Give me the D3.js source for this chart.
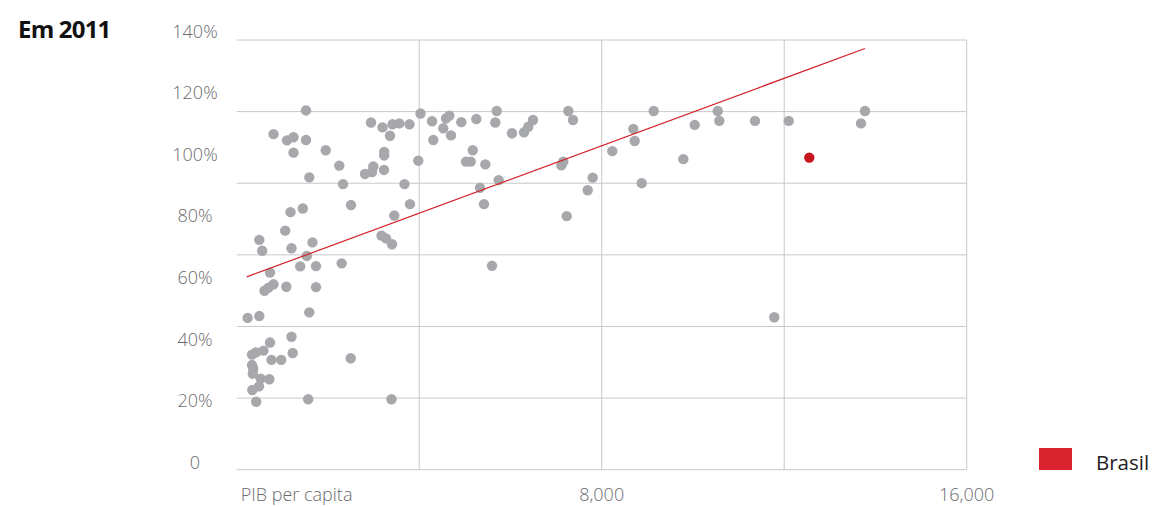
<!DOCTYPE html>
<html>
<head>
<meta charset="utf-8">
<script src="https://cdn.jsdelivr.net/npm/d3@7"></script>
<style>
    body { margin: 0; background: #fff; }
    svg { display: block; font-family: "Open Sans", sans-serif; }
</style>
</head>
<body>
<div id="chart"></div>
<script>
// PIB per capita (x) e taxa de matrícula (y, %) por país, 2011
const pibPerCapita = [
    240, 495, 1519, 807, 1102, 1245, 1519, 1245, 1951, 2249,
    1591, 2944, 3196, 3415, 3564, 3787, 3360, 3233, 3233, 2994,
    2812, 2966, 3228, 2330, 3678, 2505, 3798, 1179, 1449, 3454,
    1063, 495, 559, 1201, 1661, 3174, 3272, 3404, 1536, 2301,
    1392, 1738, 730, 807, 697, 609, 1087, 1738, 1591, 1201,
    730, 587, 423, 335, 1227, 763, 975, 2499, 335, 362,
    353, 526, 715, 489, 342, 427, 1567, 3393,
    4029, 3980, 4281, 4309, 4528, 4588, 4660, 4697, 4923, 5173,
    5026, 5129, 5252, 5449, 5699, 5668, 5333, 5420, 5743, 5596,
    6034, 6297, 6391, 6494, 7268, 7371, 7158, 7115, 7803, 7693,
    7233, 8232, 8693, 8723, 9140, 8877, 9789, 10038, 10543, 10578,
    11360, 12099, 13771, 13683, 11783
];
const matricula = [
    47.0, 47.6, 114.3, 106.6, 104.6, 105.6, 104.7, 100.6, 101.4, 96.4,
    92.6, 110.4, 108.8, 109.8, 110.1, 109.8, 106.1, 100.8, 99.7, 96.1,
    93.7, 94.3, 95.0, 90.4, 90.4, 83.6, 83.9, 81.3, 82.5, 80.2,
    75.3, 72.3, 68.8, 69.6, 71.5, 73.7, 72.8, 70.9, 67.1, 64.7,
    63.7, 63.8, 61.7, 57.9, 56.8, 55.8, 57.1, 57.0, 48.8, 40.9,
    39.0, 36.4, 35.8, 35.1, 35.6, 33.4, 33.4, 33.9, 31.7, 30.5,
    28.9, 27.3, 27.1, 24.8, 23.6, 19.8, 20.6, 20.6,
    113.3, 98.0, 110.8, 104.7, 108.5, 111.7, 112.6, 106.2, 110.5, 101.4,
    97.7, 97.7, 111.5, 96.8, 114.1, 110.4, 89.2, 83.9, 91.7, 63.9,
    106.9, 107.2, 109.0, 111.2, 114.1, 111.2, 97.7, 96.5, 92.5, 88.4,
    80.0, 101.1, 108.3, 104.4, 114.1, 90.7, 98.5, 109.6, 114.1, 110.9,
    110.9, 110.9, 114.1, 110.1, 47.2
];
const brasilPib = [12550];
const brasilMatricula = [99.0];

const trendPib = [220, 13770];
const trendMatricula = [60.3, 134.4];

const yTicks = [0, 20, 40, 60, 80, 100, 120, 140];
const yTickLabels = ["0", "20%", "40%", "60%", "80%", "100%", "120%", "140%"];
const xTicks = [0, 8000, 16000];
const xTickLabels = ["PIB per capita", "8,000", "16,000"];
const xGrid = [4000, 8000, 12000, 16000];
const gridRows = 6;

const W = 1153, H = 507;
const plot = { left: 236.7, right: 966.7, top: 40, bottom: 469.7 };

const svg = d3.select("#chart").append("svg")
    .attr("width", W)
    .attr("height", H);

const x = d3.scaleLinear().domain([0, 16000]).range([plot.left, plot.right]);
const y = d3.scaleLinear().domain([0, 140]).range([462.8, 31.2]);
const gridY = d3.scaleLinear().domain([0, gridRows]).range([plot.bottom, plot.top]);

// title
svg.append("text")
    .attr("x", 18)
    .attr("y", 38)
    .attr("font-size", 24)
    .attr("font-weight", 700)
    .attr("letter-spacing", -0.8)
    .attr("fill", "#111")
    .text("Em 2011");

// grid
const grid = svg.append("g").attr("stroke", "#c8c8c8").attr("stroke-width", 1);
grid.selectAll("line.h")
    .data(d3.range(gridRows + 1))
    .enter().append("line")
    .attr("class", "h")
    .attr("x1", plot.left).attr("x2", plot.right)
    .attr("y1", d => gridY(d)).attr("y2", d => gridY(d));
grid.selectAll("line.v")
    .data(xGrid)
    .enter().append("line")
    .attr("class", "v")
    .attr("x1", d => x(d)).attr("x2", d => x(d))
    .attr("y1", plot.top).attr("y2", plot.bottom);

// y labels
svg.append("g").selectAll("text")
    .data(yTicks)
    .enter().append("text")
    .attr("x", 195)
    .attr("y", d => y(d))
    .attr("dy", "0.35em")
    .attr("text-anchor", "middle")
    .attr("font-size", 18)
    .attr("font-weight", 300)
    .attr("fill", "#6b6b6e")
    .text((d, i) => yTickLabels[i]);

// x labels
svg.append("g").selectAll("text")
    .data(xTicks)
    .enter().append("text")
    .attr("x", (d, i) => i === 0 ? x(d) + 4 : x(d))
    .attr("y", 501)
    .attr("text-anchor", (d, i) => i === 0 ? "start" : "middle")
    .attr("font-size", 18)
    .attr("font-weight", 300)
    .attr("fill", "#6b6b6e")
    .text((d, i) => xTickLabels[i]);

// dots
const points = pibPerCapita.map((p, i) => ({ pib: p, mat: matricula[i] }));
svg.append("g").selectAll("circle")
    .data(points)
    .enter().append("circle")
    .attr("cx", d => x(d.pib))
    .attr("cy", d => y(d.mat))
    .attr("r", 5.2)
    .attr("fill", "#a7a8ab");

// trend line
const trend = trendPib.map((p, i) => [p, trendMatricula[i]]);
svg.append("path")
    .datum(trend)
    .attr("fill", "none")
    .attr("stroke", "#d21f27")
    .attr("stroke-width", 1.2)
    .attr("d", d3.line().x(d => x(d[0])).y(d => y(d[1])));

// Brasil
svg.append("g").selectAll("circle")
    .data(brasilPib.map((p, i) => ({ pib: p, mat: brasilMatricula[i] })))
    .enter().append("circle")
    .attr("cx", d => x(d.pib))
    .attr("cy", d => y(d.mat))
    .attr("r", 5.2)
    .attr("fill", "#c8161e");

// legend
const legend = svg.append("g").attr("transform", "translate(1039, 448)");
legend.append("rect")
    .attr("width", 33)
    .attr("height", 22)
    .attr("fill", "#d9232f");
legend.append("text")
    .attr("x", 57)
    .attr("y", 22)
    .attr("font-size", 20.5)
    .attr("fill", "#222")
    .text("Brasil");
</script>
</body>
</html>
